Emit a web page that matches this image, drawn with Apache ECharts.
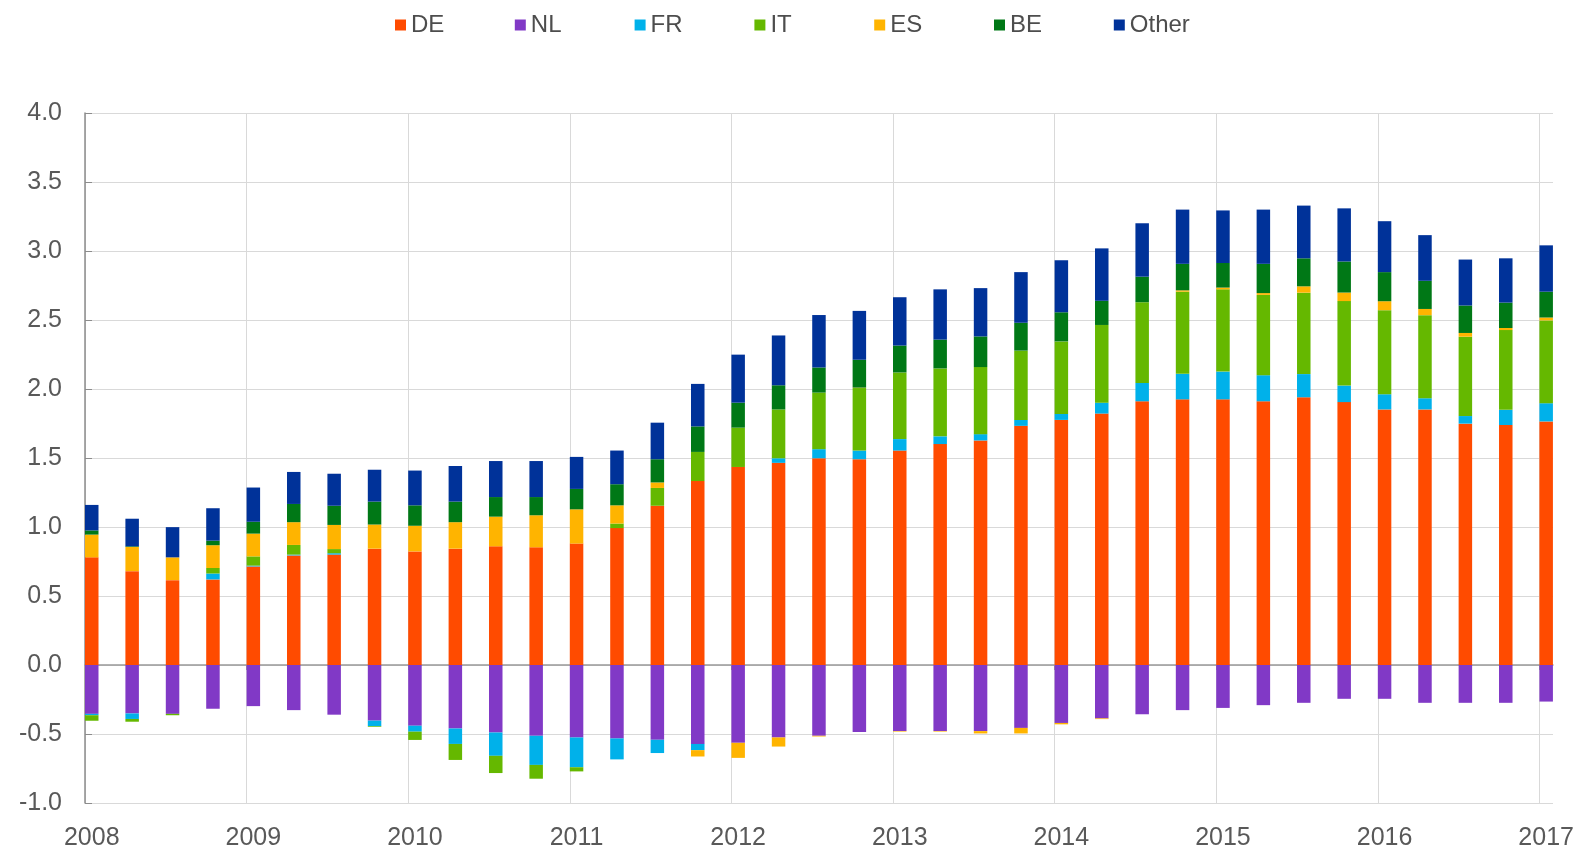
<!DOCTYPE html>
<html>
<head>
<meta charset="utf-8">
<script src="https://cdn.jsdelivr.net/npm/echarts@6/dist/echarts.min.js"></script>
<style>
html,body{margin:0;padding:0;background:#ffffff;}
#chart{width:1579px;height:851px;}
</style>
</head>
<body>
<div id="chart"></div>
<script>
// ---- data ----
const quarters = [
  '2008Q1','2008Q2','2008Q3','2008Q4','2009Q1','2009Q2','2009Q3','2009Q4',
  '2010Q1','2010Q2','2010Q3','2010Q4','2011Q1','2011Q2','2011Q3','2011Q4',
  '2012Q1','2012Q2','2012Q3','2012Q4','2013Q1','2013Q2','2013Q3','2013Q4',
  '2014Q1','2014Q2','2014Q3','2014Q4','2015Q1','2015Q2','2015Q3','2015Q4',
  '2016Q1','2016Q2','2016Q3','2016Q4','2017Q1'
];
const seriesNames = ['DE','NL','FR','IT','ES','BE','Other'];
const yTicks = [-1.0,-0.5,0.0,0.5,1.0,1.5,2.0,2.5,3.0,3.5,4.0];
const yearLabels = [2008,2009,2010,2011,2012,2013,2014,2015,2016,2017];

const DE = [0.78,0.68,0.615,0.62,0.714,0.794,0.80,0.843,0.823,0.843,0.86,0.853,0.88,0.992,1.154,1.333,
  1.435,1.465,1.498,1.491,1.554,1.601,1.627,1.733,1.776,1.822,1.911,1.925,1.925,1.911,1.94,1.905,
  1.852,1.852,1.749,1.739,1.765];
const NL = [-0.354,-0.351,-0.354,-0.317,-0.298,-0.327,-0.36,-0.403,-0.44,-0.46,-0.489,-0.513,-0.525,-0.532,-0.542,-0.572,
  -0.564,-0.525,-0.513,-0.486,-0.479,-0.479,-0.479,-0.456,-0.42,-0.387,-0.357,-0.327,-0.311,-0.291,-0.274,-0.245,
  -0.245,-0.274,-0.274,-0.274,-0.265];
const FR = [-0.01,-0.04,0,0.043,0.006,0.006,0.01,-0.04,-0.043,-0.112,-0.169,-0.211,-0.216,-0.152,-0.096,-0.045,
  0,0.033,0.066,0.063,0.083,0.056,0.046,0.043,0.043,0.079,0.133,0.185,0.201,0.189,0.168,0.12,
  0.11,0.081,0.055,0.11,0.132];
const IT = [-0.04,-0.02,-0.01,0.04,0.067,0.07,0.03,-0.005,-0.06,-0.116,-0.125,-0.1,-0.03,0.033,0.129,0.211,
  0.285,0.354,0.41,0.453,0.483,0.492,0.486,0.502,0.526,0.563,0.585,0.595,0.596,0.582,0.59,0.612,
  0.609,0.602,0.575,0.578,0.6];
const ES = [0.165,0.175,0.165,0.165,0.165,0.165,0.175,0.175,0.186,0.192,0.215,0.232,0.248,0.132,0.04,-0.046,
  -0.109,-0.066,-0.005,0.003,-0.004,-0.004,-0.017,-0.04,-0.01,-0.005,0,0.01,0.013,0.013,0.046,0.062,
  0.065,0.045,0.027,0.015,0.021];
const BE = [0.03,0.005,0,0.033,0.086,0.132,0.139,0.166,0.148,0.149,0.142,0.132,0.148,0.153,0.168,0.185,
  0.181,0.175,0.182,0.202,0.195,0.209,0.222,0.202,0.211,0.175,0.185,0.192,0.178,0.212,0.203,0.225,
  0.211,0.204,0.199,0.184,0.187];
const Other = [0.185,0.2,0.219,0.235,0.248,0.232,0.232,0.231,0.252,0.258,0.261,0.261,0.232,0.244,0.265,0.308,
  0.348,0.361,0.38,0.354,0.35,0.364,0.35,0.367,0.377,0.38,0.387,0.393,0.381,0.393,0.382,0.385,
  0.369,0.331,0.333,0.321,0.336];

// ---- layout / style ----
const colors = ['#FF4B00','#8139C6','#00B1EA','#65B800','#FFB400','#007816','#003299'];
const GRID_LEFT = 85, GRID_RIGHT = 26, GRID_TOP = 113, GRID_BOTTOM = 43;
const GRID_W = 1579 - GRID_LEFT - GRID_RIGHT;
const X_MIN = 2008, X_MAX = 2017.084;
const BAR_W = 13.5;
const pxPerYear = GRID_W / (X_MAX - X_MIN);
const barShift = (BAR_W / 2) / pxPerYear; // bars start at the period's gridline
const LEGEND_LEFT = 395, LEGEND_STEP = 119.8;

const qx = q => parseInt(q.slice(0, 4), 10) + (parseInt(q.slice(5), 10) - 1) / 4;
const values = { DE, NL, FR, IT, ES, BE, Other };

const labelColor = '#595959';
const font = 'Liberation Sans, Arial, sans-serif';

const chart = echarts.init(document.getElementById('chart'), null, { renderer: 'canvas' });
chart.setOption({
  animation: false,
  backgroundColor: '#ffffff',
  color: colors,
  legend: seriesNames.map((name, i) => ({
    data: [name],
    left: LEGEND_LEFT + i * LEGEND_STEP,
    top: 13,
    icon: 'rect',
    itemWidth: 11,
    itemHeight: 11,
    itemGap: 0,
    padding: 0,
    selectedMode: false,
    textStyle: { fontSize: 24, color: '#4d4d4d', fontFamily: font }
  })),
  grid: { left: GRID_LEFT, right: GRID_RIGHT, top: GRID_TOP, bottom: GRID_BOTTOM, containLabel: false },
  xAxis: [
    {
      type: 'value', min: X_MIN, max: X_MAX, interval: 1, position: 'bottom',
      axisLine: { show: false, onZero: false },
      axisTick: { show: false },
      axisLabel: {
        show: true, margin: 23, fontSize: 25, color: labelColor, fontFamily: font,
        showMaxLabel: false, showMinLabel: true,
        padding: [0, 0, 0, BAR_W],
        formatter: v => (yearLabels.indexOf(v) >= 0 ? String(v) : '')
      },
      splitLine: { show: true, showMaxLine: false, lineStyle: { color: '#d9d9d9', width: 1 } }
    },
    {
      type: 'value', min: X_MIN, max: X_MAX, interval: 1, position: 'bottom',
      axisLine: { show: true, onZero: true, lineStyle: { color: '#999999', width: 1.5 } },
      axisTick: { show: true, length: 5, customValues: yearLabels, lineStyle: { color: '#999999' } },
      axisLabel: { show: false },
      splitLine: { show: false }
    },
    {
      type: 'value', min: X_MIN - barShift, max: X_MAX - barShift, show: false,
      axisLine: { onZero: false }, splitLine: { show: false }
    }
  ],
  yAxis: {
    type: 'value', min: yTicks[0], max: yTicks[yTicks.length - 1], interval: 0.5,
    axisLine: { show: true, onZero: false, lineStyle: { color: '#8c8c8c', width: 1.5 } },
    axisTick: { show: true, inside: true, length: 7, lineStyle: { color: '#8c8c8c' } },
    axisLabel: { margin: 23, fontSize: 25, color: labelColor, fontFamily: font, formatter: v => v.toFixed(1) },
    splitLine: { show: true, lineStyle: { color: '#d9d9d9', width: 1 } }
  },
  series: seriesNames.map((name, si) => ({
    name: name,
    type: 'bar',
    stack: 'total',
    xAxisIndex: 2,
    barWidth: BAR_W,
    itemStyle: { color: colors[si] },
    emphasis: { disabled: true },
    // value first so the stack is computed on the y values
    encode: { x: 1, y: 0 },
    data: quarters.map((q, i) => [values[name][i], qx(q)])
  }))
});
</script>
</body>
</html>
